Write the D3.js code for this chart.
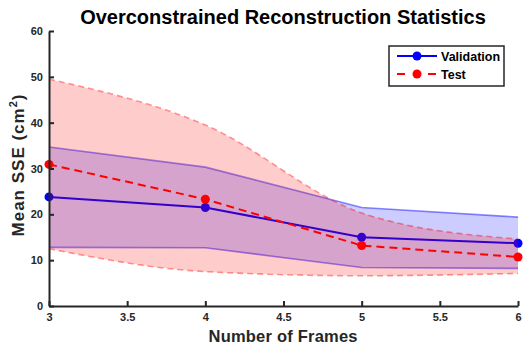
<!DOCTYPE html>
<html>
<head>
<meta charset="utf-8">
<script src="https://cdn.jsdelivr.net/npm/d3@7"></script>
<style>
  body { margin: 0; background: #fff; }
  text { font-family: "Liberation Sans", Arial, sans-serif; font-weight: bold; fill: #262626; }
</style>
</head>
<body>
<svg id="chart" width="523" height="345"></svg>
<script>
// data
var frames = [3, 4, 5, 6];
var valMean = [23.8, 21.5, 15.0, 13.7];
var valUpper = [34.7, 30.3, 21.5, 19.4];
var valLower = [12.8, 12.7, 8.4, 8.2];
var testMean = [30.9, 23.3, 13.2, 10.7];
var testUpper = [49.5, 39.5, 20.3, 14.6];
var testLower = [12.5, 7.5, 6.6, 7.1];
var xTicks = [3, 3.5, 4, 4.5, 5, 5.5, 6];
var yTicks = [0, 10, 20, 30, 40, 50, 60];

var svg = d3.select("#chart");
var plotLeft = 49, plotRight = 518, plotTop = 31, plotBottom = 306;

var x = d3.scaleLinear().domain([3, 6]).range([plotLeft, plotRight]);
var y = d3.scaleLinear().domain([0, 60]).range([plotBottom, plotTop]);

function band(upper, lower, curve) {
  var pts = frames.map(function (f, i) { return {x: f, u: upper[i], l: lower[i]}; });
  return d3.area().x(function (d) { return x(d.x); })
    .y0(function (d) { return y(d.l); })
    .y1(function (d) { return y(d.u); })
    .curve(curve)(pts);
}
function edge(vals, curve) {
  return d3.line().x(function (d, i) { return x(frames[i]); })
    .y(function (d) { return y(d); }).curve(curve)(vals);
}

// validation band
svg.append("path").attr("d", band(valUpper, valLower, d3.curveLinear))
  .style("fill", "#0000ff").style("fill-opacity", 0.2);
[valUpper, valLower].forEach(function (v) {
  svg.append("path").attr("d", edge(v, d3.curveLinear))
    .style("fill", "none").style("stroke", "#0000ff").style("stroke-opacity", 0.45).style("stroke-width", 1.6);
});

// validation mean
svg.append("path").attr("d", edge(valMean, d3.curveLinear))
  .style("fill", "none").style("stroke", "#0000ff").style("stroke-width", 2);
svg.selectAll(".valDot").data(valMean).join("circle")
  .attr("class", "valDot")
  .attr("cx", function (d, i) { return x(frames[i]); })
  .attr("cy", function (d) { return y(d); })
  .attr("r", 4.5).style("fill", "#0000ff");

// test band (drawn on top)
svg.append("path").attr("d", band(testUpper, testLower, d3.curveMonotoneX))
  .style("fill", "#ff0000").style("fill-opacity", 0.2);
[testUpper, testLower].forEach(function (v) {
  svg.append("path").attr("d", edge(v, d3.curveMonotoneX))
    .style("fill", "none").style("stroke", "#ff0000").style("stroke-opacity", 0.4)
    .style("stroke-width", 1.6).style("stroke-dasharray", "6,4");
});

// test mean
svg.append("path").attr("d", edge(testMean, d3.curveLinear))
  .style("fill", "none").style("stroke", "#ff0000").style("stroke-width", 2)
  .style("stroke-dasharray", "8,5");
svg.selectAll(".testDot").data(testMean).join("circle")
  .attr("class", "testDot")
  .attr("cx", function (d, i) { return x(frames[i]); })
  .attr("cy", function (d) { return y(d); })
  .attr("r", 4.5).style("fill", "#ff0000");

// axes
var xAxis = svg.append("g").attr("transform", "translate(0," + plotBottom + ")")
  .call(d3.axisBottom(x).tickValues(xTicks).tickSizeInner(-5).tickSizeOuter(0).tickPadding(7)
    .tickFormat(function (d) { return d3.format("~g")(d); }));
var yAxis = svg.append("g").attr("transform", "translate(" + plotLeft + ",0)")
  .call(d3.axisLeft(y).tickValues(yTicks).tickSizeInner(-5).tickSizeOuter(0).tickPadding(6));
[xAxis, yAxis].forEach(function (a) {
  a.select(".domain").style("stroke", "#262626").style("stroke-width", 2);
  a.selectAll(".tick line").style("stroke", "#262626").style("stroke-width", 2);
  a.selectAll("text").style("font-size", "11px").style("font-family", "'Liberation Sans', Arial, sans-serif")
    .style("font-weight", "bold").style("fill", "#262626");
});

// title and labels
svg.append("text").attr("x", 283).attr("y", 24).attr("text-anchor", "middle")
  .style("font-size", "20px").style("fill", "#000").text("Overconstrained Reconstruction Statistics");
svg.append("text").attr("x", 283).attr("y", 342).attr("text-anchor", "middle")
  .attr("textLength", 149).attr("lengthAdjust", "spacing")
  .style("font-size", "16.5px").text("Number of Frames");
var yl = svg.append("text").attr("transform", "translate(24,165) rotate(-90)")
  .attr("text-anchor", "middle").style("font-size", "17px").style("letter-spacing", "1px");
yl.append("tspan").text("Mean SSE (cm");
yl.append("tspan").attr("dy", -7).style("font-size", "11px").text("2");
yl.append("tspan").attr("dy", 7).text(")");

// legend
var legend = svg.append("g").attr("transform", "translate(389,46)");
legend.append("rect").attr("width", 115).attr("height", 40)
  .style("fill", "#fff").style("stroke", "#262626").style("stroke-width", 1.5);
var items = [
  {name: "Validation", color: "#0000ff", dash: null},
  {name: "Test", color: "#ff0000", dash: "8,23"}
];
items.forEach(function (d, i) {
  var yy = 10 + i * 18;
  legend.append("line").attr("x1", 8).attr("x2", 48).attr("y1", yy).attr("y2", yy)
    .style("stroke", d.color).style("stroke-width", 2).style("stroke-dasharray", d.dash);
  legend.append("circle").attr("cx", 28).attr("cy", yy).attr("r", 4.5).style("fill", d.color);
  legend.append("text").attr("x", 52).attr("y", yy + 4.5).style("font-size", "12.5px").style("fill", "#000").text(d.name);
});
</script>
</body>
</html>
